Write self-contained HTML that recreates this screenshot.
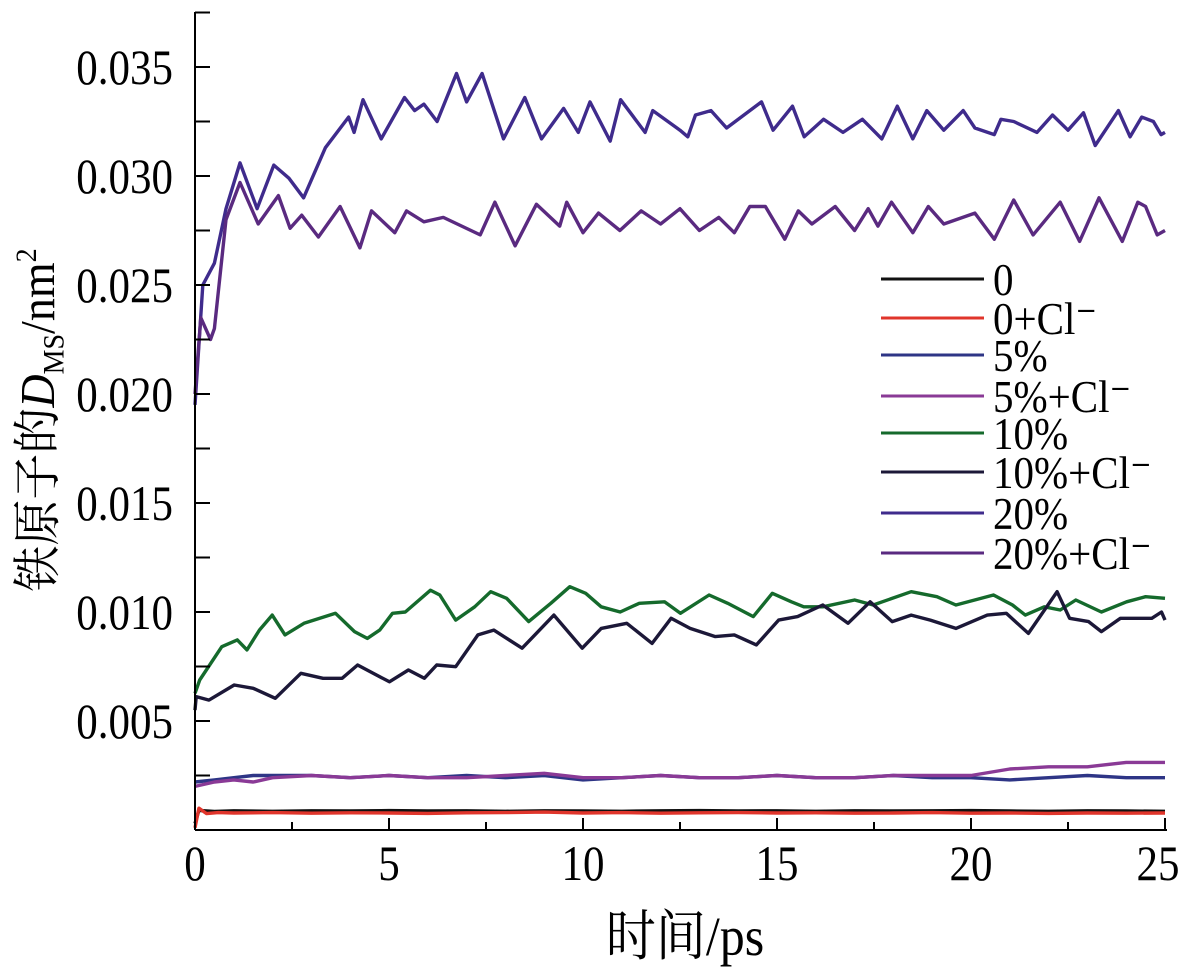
<!DOCTYPE html>
<html><head><meta charset="utf-8"><style>
body{margin:0;background:#fff;}
svg{display:block;font-family:"Liberation Serif","Noto Serif CJK SC",serif;}
</style></head><body>
<svg id="chart" width="1181" height="971" viewBox="0 0 1181 971" xmlns="http://www.w3.org/2000/svg">
<g id="plot"></g>
<g id="axes"></g>
<g id="legend"></g>
<text transform="translate(685,955) scale(1,1.1)" font-size="50" text-anchor="middle" font-family="'Liberation Serif','Noto Serif CJK SC',serif">时间/ps</text>
<text transform="translate(54,420) rotate(-90) scale(1,1.05)" font-size="46" text-anchor="middle" font-family="'Liberation Serif','Noto Serif CJK SC',serif">铁原子的<tspan font-style="italic">D</tspan><tspan font-size="28" dy="9">MS</tspan><tspan dy="-9">/nm</tspan><tspan font-size="28" dy="-17">2</tspan></text>
</svg>
<script>
const xTicks=[0,5,10,15,20,25];
const yTicks=[0.005,0.010,0.015,0.020,0.025,0.030,0.035];
const yTickLabels=["0.005","0.010","0.015","0.020","0.025","0.030","0.035"];
const seriesNames=["0","0+Cl⁻","5%","5%+Cl⁻","10%","10%+Cl⁻","20%","20%+Cl⁻"];
const s0x=[0,0.1,0.5,1,2,3,4,5,6,7,8,9,10,11,12,13,14,15,16,17,18,19,20,21,22,23,24,25];
const s0y=[0.0003,0.0009,0.00085,0.00088,0.00086,0.00088,0.00087,0.00089,0.00087,0.00088,0.00086,0.00088,0.00087,0.00086,0.00088,0.00089,0.00087,0.00088,0.00086,0.00088,0.00087,0.00088,0.00089,0.00087,0.00086,0.00088,0.00087,0.00086];
const s1x=[0,0.1,0.3,0.6,1,2,3,4,5,6,7,8,9,10,11,12,13,14,15,16,17,18,19,20,21,22,23,24,25];
const s1y=[0.0001,0.001,0.00075,0.0008,0.00078,0.0008,0.00077,0.00079,0.00078,0.00076,0.00079,0.0008,0.00082,0.00078,0.0008,0.00077,0.00079,0.0008,0.00078,0.00079,0.00077,0.00078,0.0008,0.00077,0.00078,0.00076,0.00078,0.00077,0.00078];
const s2x=[0,0.5,1,1.5,2,3,4,5,6,7,8,9,10,11,12,13,14,15,16,17,18,19,20,21,22,23,24,25];
const s2y=[0.0022,0.0023,0.0024,0.0025,0.0025,0.0025,0.0024,0.0025,0.0024,0.0025,0.0024,0.0025,0.0023,0.0024,0.0025,0.0024,0.0024,0.0025,0.0024,0.0024,0.0025,0.0024,0.0024,0.0023,0.0024,0.0025,0.0024,0.0024];
const s3x=[0,0.5,1,1.5,2,3,4,5,6,7,8,9,10,11,12,13,14,15,16,17,18,19,20,21,22,23,24,25];
const s3y=[0.002,0.0022,0.0023,0.0022,0.0024,0.0025,0.0024,0.0025,0.0024,0.0024,0.0025,0.0026,0.0024,0.0024,0.0025,0.0024,0.0024,0.0025,0.0024,0.0024,0.0025,0.0025,0.0025,0.0028,0.0029,0.0029,0.0031,0.0031];
const s4x=[0,0.12,0.69,1.09,1.34,1.66,1.99,2.32,2.81,3.62,4.11,4.44,4.76,5.09,5.42,6.07,6.31,6.72,7.21,7.62,8.03,8.6,9.17,9.66,10.07,10.47,10.96,11.45,12.1,12.51,13.25,13.73,14.39,14.88,15.37,15.69,16.18,17.0,17.48,18.46,19.12,19.61,20.58,21.07,21.4,21.89,22.3,22.7,23.36,24.01,24.5,25];
const s4y=[0.00627,0.00688,0.00841,0.00872,0.00826,0.00917,0.00986,0.00895,0.00948,0.00994,0.0091,0.00879,0.00917,0.00994,0.01,0.011,0.01078,0.00963,0.01024,0.01093,0.01063,0.00956,0.0104,0.01116,0.01086,0.01024,0.01,0.0104,0.01047,0.00994,0.01078,0.0104,0.00979,0.01086,0.01047,0.01024,0.01024,0.01055,0.01032,0.01093,0.0107,0.01032,0.01078,0.01032,0.00986,0.01024,0.01009,0.01055,0.01,0.01047,0.0107,0.01063];
const s5x=[0,0.03,0.36,1.01,1.5,2.07,2.73,3.3,3.79,4.19,5.01,5.5,5.91,6.23,6.72,7.29,7.7,8.43,9.25,9.98,10.47,11.13,11.78,12.27,12.76,13.41,13.9,14.47,15.04,15.53,16.18,16.83,17.4,17.97,18.46,18.95,19.61,20.42,20.91,21.48,22.22,22.54,23.03,23.36,23.85,24.66,24.91,25];
const s5y=[0.0055,0.00612,0.00596,0.00665,0.0065,0.00604,0.00719,0.00696,0.00696,0.00757,0.0068,0.00734,0.00696,0.00757,0.00749,0.00895,0.00917,0.00834,0.00986,0.00834,0.00925,0.00948,0.00856,0.00971,0.00925,0.00887,0.00895,0.00849,0.00963,0.00979,0.01032,0.00948,0.01047,0.00956,0.00986,0.00963,0.00925,0.00986,0.00994,0.00902,0.01093,0.00971,0.00956,0.0091,0.00971,0.00971,0.01,0.00963];
const s6x=[0,0.2,0.5,0.8,1.16,1.6,2.03,2.42,2.8,3.36,3.96,4.1,4.33,4.8,5.4,5.66,5.9,6.24,6.74,7.0,7.4,7.95,8.5,8.93,9.5,9.88,10.18,10.7,10.97,11.6,11.8,12.5,12.7,12.9,13.3,13.7,14.6,14.9,15.4,15.7,16.2,16.7,17.2,17.7,18.1,18.5,18.86,19.3,19.8,20.1,20.6,20.77,21.1,21.7,22.1,22.5,22.9,23.2,23.8,24.1,24.4,24.7,24.9,25];
const s6y=[0.0195,0.025,0.026,0.0285,0.0306,0.0285,0.0305,0.0299,0.029,0.0313,0.0327,0.032,0.0335,0.0317,0.0336,0.033,0.0333,0.0325,0.0347,0.0334,0.0347,0.0317,0.0336,0.0317,0.0331,0.032,0.0334,0.0316,0.0335,0.032,0.033,0.0321,0.0318,0.0328,0.033,0.0322,0.0334,0.0321,0.0332,0.0318,0.0326,0.032,0.0326,0.0317,0.0332,0.0317,0.033,0.0321,0.033,0.0322,0.0319,0.0326,0.0325,0.032,0.0328,0.0321,0.0329,0.0314,0.033,0.0318,0.0327,0.0325,0.0319,0.032];
const s7x=[0,0.15,0.4,0.5,0.8,1.16,1.63,2.15,2.45,2.75,3.18,3.74,4.25,4.55,5.15,5.45,5.9,6.4,7.35,7.73,8.25,8.8,9.4,9.58,10.0,10.4,10.95,11.5,12.0,12.5,13.0,13.5,13.9,14.3,14.7,15.2,15.55,15.9,16.5,17.0,17.35,17.6,17.95,18.5,18.9,19.3,20.1,20.6,21.1,21.6,22.3,22.8,23.3,23.9,24.3,24.5,24.8,25];
const s7y=[0.02,0.0235,0.0225,0.023,0.028,0.0297,0.0278,0.0291,0.0276,0.0282,0.0272,0.0286,0.0267,0.0284,0.0274,0.0284,0.0279,0.0281,0.0273,0.0288,0.0268,0.0287,0.0277,0.0288,0.0274,0.0283,0.0275,0.0284,0.0278,0.0285,0.0275,0.0281,0.0274,0.0286,0.0286,0.0271,0.0284,0.0278,0.0286,0.0275,0.0285,0.0277,0.0288,0.0274,0.0286,0.0278,0.0283,0.0271,0.0289,0.0273,0.0288,0.027,0.029,0.027,0.0288,0.0286,0.0273,0.0275];
const colors=["#111111","#e0352b","#2e3586","#8a3a96","#156a2c","#1c1838","#3f2b8c","#5a2a80"];

const X0=195,X1=1165,Y0=830,PX_PER=21.8/0.001;
function sx(v){return X0+(v/25)*(X1-X0);}
function sy(v){return Y0-v*PX_PER;}
const NS="http://www.w3.org/2000/svg";
const plot=document.getElementById('plot'),axes=document.getElementById('axes'),legend=document.getElementById('legend');
function mk(tag,attrs,parent){const e=document.createElementNS(NS,tag);for(const k in attrs)e.setAttribute(k,attrs[k]);parent.appendChild(e);return e;}

const allX=[s0x,s1x,s2x,s3x,s4x,s5x,s6x,s7x],allY=[s0y,s1y,s2y,s3y,s4y,s5y,s6y,s7y];
const seriesKeys=["0","0-cl","5pct","5pct-cl","10pct","10pct-cl","20pct","20pct-cl"];
for(let i=0;i<8;i++){
  const d=allX[i].map((x,j)=>(j?'L':'M')+sx(x).toFixed(1)+','+sy(allY[i][j]).toFixed(1)).join(' ');
  const p=mk('path',{d:d,fill:'none',stroke:colors[i],'stroke-width':3.4,'stroke-linejoin':'round'},plot);
  
  
}
const ya=mk('line',{x1:X0,y1:12,x2:X0,y2:Y0,stroke:'#000','stroke-width':2},axes);


const xa=mk('line',{x1:X0,y1:Y0,x2:X1+2,y2:Y0,stroke:'#000','stroke-width':2},axes);


for(let k=1;k<=15;k++){
  const v=k*0.0025,y=sy(v);
  const t=mk('line',{x1:X0,y1:y,x2:X0+15,y2:y,stroke:'#000','stroke-width':2},axes);
  
  
}
yTicks.forEach((v,i)=>{
  const t=mk('text',{transform:'translate(173,'+(sy(v)+17)+') scale(1,1.15)','font-size':43,'text-anchor':'end'},axes);
  t.textContent=yTickLabels[i];
  
  
});
for(let k=0;k<=10;k++){
  const v=k*2.5,x=sx(v);
  const t=mk('line',{x1:x,y1:Y0,x2:x,y2:Y0-(k%2?8:12),stroke:'#000','stroke-width':2},axes);
  
  
}
xTicks.forEach(v=>{
  const x=Math.min(sx(v),1158);
  const t=mk('text',{transform:'translate('+x+',880) scale(1,1.15)','font-size':43,'text-anchor':'middle'},axes);
  t.textContent=String(v);
  
  
});
const legY=[279,318,355,396,433,472,513,553];
seriesNames.forEach((n,i)=>{
  const g=mk('g',{},legend);
  
  
  mk('line',{x1:881,y1:legY[i],x2:984,y2:legY[i],stroke:colors[i],'stroke-width':3},g);
  const t=mk('text',{transform:'translate(993,'+(legY[i]+16)+') scale(1,1.12)','font-size':41},g);
  t.textContent=n;
});
</script>
</body></html>
